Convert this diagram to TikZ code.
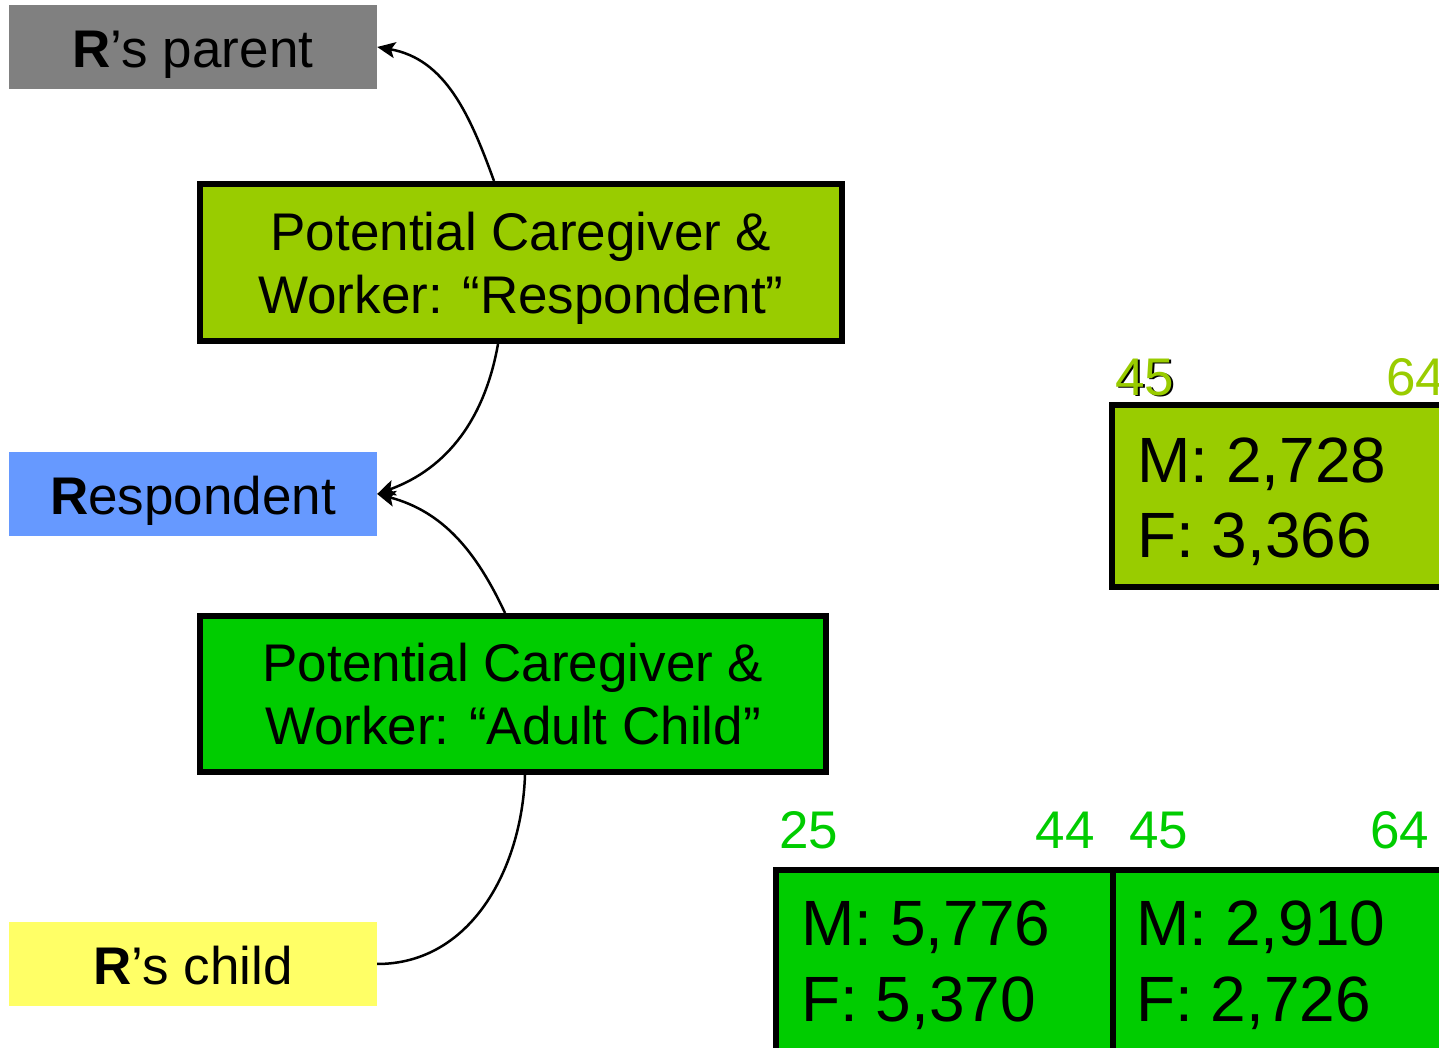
\documentclass[tikz,border=0pt]{standalone}
\usepackage{fontspec}
\setmainfont{Liberation Sans}
\usetikzlibrary{arrows.meta}
\definecolor{parentgray}{HTML}{808080}
\definecolor{respblue}{HTML}{6699FF}
\definecolor{childyellow}{HTML}{FFFF66}
\definecolor{respolive}{HTML}{99CC00}
\definecolor{kidgreen}{HTML}{00CC00}
\begin{document}
\begin{tikzpicture}[x=1pt, y=1pt,
	tag/.style={minimum width=368pt, minimum height=84pt, inner sep=0pt, text height=46pt, text depth=4pt, font=\fontsize{53}{63}\selectfont},
	role/.style={draw, line width=6pt, align=center, inner sep=0pt, text depth=0pt, font=\fontsize{53}{63}\selectfont},
	cell/.style={draw, line width=6pt, outer sep=0pt, anchor=north west, minimum width=337pt, minimum height=200pt},
	count/.style={anchor=base west, inner sep=0pt, font=\fontsize{64}{75}\selectfont},
	age/.style={inner sep=0pt, font=\fontsize{53}{60}\selectfont},
	link/.style={line width=2.5pt, -{Stealth[length=18pt, width=16pt, inset=4pt]}} ]
		\useasboundingbox (0,0) rectangle (1439,1048);
		\clip (0,0) rectangle (1439,1048);
		% family members
		\node[tag, fill=parentgray] (parent) at (193,1001) {\textbf{R}’s parent};
		\node[tag, fill=respblue] (resp) at (193,554) {\textbf{R}espondent};
		\node[tag, fill=childyellow] (child) at (193,84) {\textbf{R}’s child};
		% caregiver boxes
		\node[role, fill=respolive, minimum width=642pt, minimum height=157pt] (carer) at (521,785.5) {Potential Caregiver \&\\Worker: “Respondent”};
		\node[role, fill=kidgreen, minimum width=626pt, minimum height=156pt] (kid) at (513,354) {Potential Caregiver \&\\Worker: “Adult Child”};
		\draw[link] ([xshift=-27pt]carer.north) to[out=110, in=-10] (parent.east);
		\draw[link] ([xshift=-23pt]carer.south) to[out=-100, in=20] (resp.east);
		\draw[link] ([xshift=-8pt]kid.north) to[out=115, in=-15] (resp.east);
		\draw[line width=2.5pt] ([xshift=12pt]kid.south) to[out=-92, in=0] (child.east);
		% counts
		\node[cell, fill=respolive, minimum width=348pt, minimum height=182pt] (old) at (1112,643) {};
		\node[count] (oldm) at (1137,565) {M: 2,728};
		\node[count] (oldf) at (1137,490) {F: 3,366};
		\node[cell, fill=kidgreen] (young) at (776,178) {};
		\node[cell, fill=kidgreen] (mid) at (1113,178) {};
		\node[count] (youngm) at (801,102) {M: 5,776};
		\node[count] (youngf) at (801,26) {F: 5,370};
		\node[count] (midm) at (1136,102) {M: 2,910};
		\node[count] (midf) at (1136,26) {F: 2,726};
		% ages
		\node[age, anchor=base west] (oldlo) at (1117,651) {45};
		\node[age, anchor=base west, text=respolive] (oldlob) at (1115,652) {45};
		\node[age, anchor=base west, text=respolive] (oldhi) at (1386,652) {64};
		\foreach \a/\x in {25/779, 45/1129, 64/1370}
			\node[age, anchor=base west, text=kidgreen] (age\a) at (\x,199) {\a};
		\node[age, anchor=base east, text=kidgreen] (age44) at (1095,199) {44};
	\end{tikzpicture}
\end{document}
